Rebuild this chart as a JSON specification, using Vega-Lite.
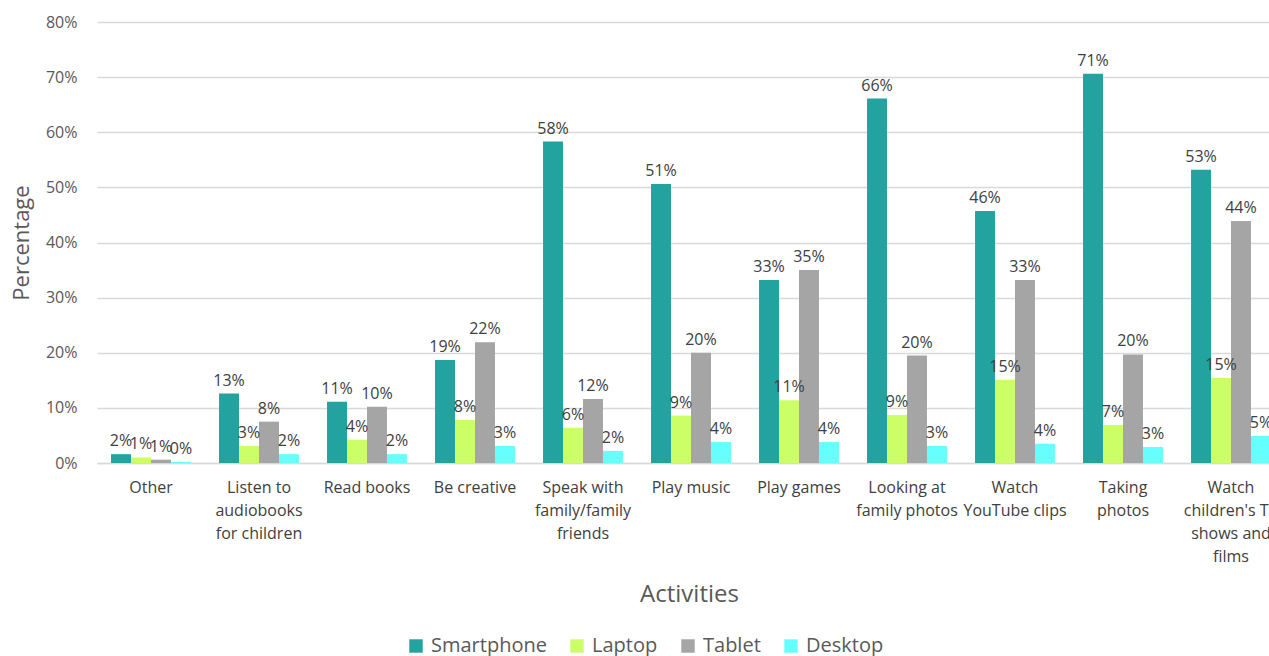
{
  "$schema": "https://vega.github.io/schema/vega-lite/v6.json",
  "width": 1172,
  "height": 441,
  "autosize": {"type": "none"},
  "padding": {"left": 97, "top": 22, "right": 0, "bottom": 193},
  "background": "white",
  "config": {
    "font": "Open Sans",
    "view": {"stroke": null},
    "axis": {"labelColor": "#595959", "titleColor": "#595959", "titleFontWeight": "normal"}
  },
  "data": {
    "values": [
      {"activity": "Other", "device": "Smartphone", "share": 0.016},
      {"activity": "Other", "device": "Laptop", "share": 0.010},
      {"activity": "Other", "device": "Tablet", "share": 0.006},
      {"activity": "Other", "device": "Desktop", "share": 0.002},
      {"activity": "Listen to audiobooks for children", "device": "Smartphone", "share": 0.126},
      {"activity": "Listen to audiobooks for children", "device": "Laptop", "share": 0.031},
      {"activity": "Listen to audiobooks for children", "device": "Tablet", "share": 0.075},
      {"activity": "Listen to audiobooks for children", "device": "Desktop", "share": 0.016},
      {"activity": "Read books", "device": "Smartphone", "share": 0.111},
      {"activity": "Read books", "device": "Laptop", "share": 0.042},
      {"activity": "Read books", "device": "Tablet", "share": 0.102},
      {"activity": "Read books", "device": "Desktop", "share": 0.016},
      {"activity": "Be creative", "device": "Smartphone", "share": 0.187},
      {"activity": "Be creative", "device": "Laptop", "share": 0.078},
      {"activity": "Be creative", "device": "Tablet", "share": 0.219},
      {"activity": "Be creative", "device": "Desktop", "share": 0.031},
      {"activity": "Speak with family/family friends", "device": "Smartphone", "share": 0.583},
      {"activity": "Speak with family/family friends", "device": "Laptop", "share": 0.064},
      {"activity": "Speak with family/family friends", "device": "Tablet", "share": 0.116},
      {"activity": "Speak with family/family friends", "device": "Desktop", "share": 0.022},
      {"activity": "Play music", "device": "Smartphone", "share": 0.506},
      {"activity": "Play music", "device": "Laptop", "share": 0.086},
      {"activity": "Play music", "device": "Tablet", "share": 0.200},
      {"activity": "Play music", "device": "Desktop", "share": 0.038},
      {"activity": "Play games", "device": "Smartphone", "share": 0.332},
      {"activity": "Play games", "device": "Laptop", "share": 0.114},
      {"activity": "Play games", "device": "Tablet", "share": 0.350},
      {"activity": "Play games", "device": "Desktop", "share": 0.038},
      {"activity": "Looking at family photos", "device": "Smartphone", "share": 0.661},
      {"activity": "Looking at family photos", "device": "Laptop", "share": 0.087},
      {"activity": "Looking at family photos", "device": "Tablet", "share": 0.195},
      {"activity": "Looking at family photos", "device": "Desktop", "share": 0.031},
      {"activity": "Watch YouTube clips", "device": "Smartphone", "share": 0.457},
      {"activity": "Watch YouTube clips", "device": "Laptop", "share": 0.151},
      {"activity": "Watch YouTube clips", "device": "Tablet", "share": 0.332},
      {"activity": "Watch YouTube clips", "device": "Desktop", "share": 0.035},
      {"activity": "Taking photos", "device": "Smartphone", "share": 0.706},
      {"activity": "Taking photos", "device": "Laptop", "share": 0.069},
      {"activity": "Taking photos", "device": "Tablet", "share": 0.197},
      {"activity": "Taking photos", "device": "Desktop", "share": 0.029},
      {"activity": "Watch children's TV shows and films", "device": "Smartphone", "share": 0.532},
      {"activity": "Watch children's TV shows and films", "device": "Laptop", "share": 0.154},
      {"activity": "Watch children's TV shows and films", "device": "Tablet", "share": 0.439},
      {"activity": "Watch children's TV shows and films", "device": "Desktop", "share": 0.049}
    ]
  },
  "encoding": {
    "x": {
      "field": "activity",
      "type": "nominal",
      "sort": null,
      "title": "Activities",
      "scale": {"paddingInner": 0.26, "paddingOuter": 0.13, "range": [0, 1188]},
      "axis": {
        "labelAngle": 0,
        "labelFontSize": 16,
        "labelColor": "#404040",
        "labelLineHeight": 23,
        "labelPadding": 16,
        "labelLimit": 200,
        "labelBaseline": "top",
        "ticks": false,
        "domainColor": "#D9D9D9",
        "domainWidth": 1.5,
        "titleFontSize": 24,
        "titlePadding": 18,
        "titleX": 592,
        "labelExpr": "{'Other':['Other'],'Listen to audiobooks for children':['Listen to','audiobooks','for children'],'Read books':['Read books'],'Be creative':['Be creative'],'Speak with family/family friends':['Speak with','family/family','friends'],'Play music':['Play music'],'Play games':['Play games'],'Looking at family photos':['Looking at','family photos'],'Watch YouTube clips':['Watch','YouTube clips'],'Taking photos':['Taking','photos'],'Watch children\\'s TV shows and films':['Watch','children\\'s TV','shows and','films']}[datum.label]"
      }
    },
    "xOffset": {
      "field": "device",
      "type": "nominal",
      "sort": ["Smartphone", "Laptop", "Tablet", "Desktop"],
      "scale": {"paddingInner": 0, "paddingOuter": 0}
    },
    "y": {
      "field": "share",
      "type": "quantitative",
      "title": "Percentage",
      "scale": {"domain": [0, 0.8]},
      "axis": {
        "format": ".0%",
        "values": [0, 0.1, 0.2, 0.3, 0.4, 0.5, 0.6, 0.7, 0.8],
        "labelFontSize": 16,
        "labelPadding": 20,
        "ticks": false,
        "domain": false,
        "gridColor": "#D9D9D9",
        "gridWidth": 1.5,
        "titleFontSize": 22,
        "titlePadding": 12
      }
    }
  },
  "layer": [
    {
      "mark": {"type": "bar"},
      "encoding": {
        "color": {
          "field": "device",
          "type": "nominal",
          "sort": ["Smartphone", "Laptop", "Tablet", "Desktop"],
          "scale": {
            "domain": ["Smartphone", "Laptop", "Tablet", "Desktop"],
            "range": ["#22A39F", "#CCFF66", "#A5A5A5", "#66FFFF"]
          },
          "legend": {
            "title": null,
            "orient": "none",
            "legendX": 309,
            "legendY": 614,
            "direction": "horizontal",
            "symbolType": "square",
            "symbolSize": 180,
            "symbolStrokeWidth": 0,
            "labelFontSize": 20,
            "labelColor": "#595959",
            "columnPadding": 20,
            "labelOffset": 5
          }
        }
      }
    },
    {
      "mark": {"type": "text", "baseline": "bottom", "dy": -5, "fontSize": 16, "color": "#404040"},
      "encoding": {
        "text": {"field": "share", "type": "quantitative", "format": ".0%"}
      }
    }
  ]
}
